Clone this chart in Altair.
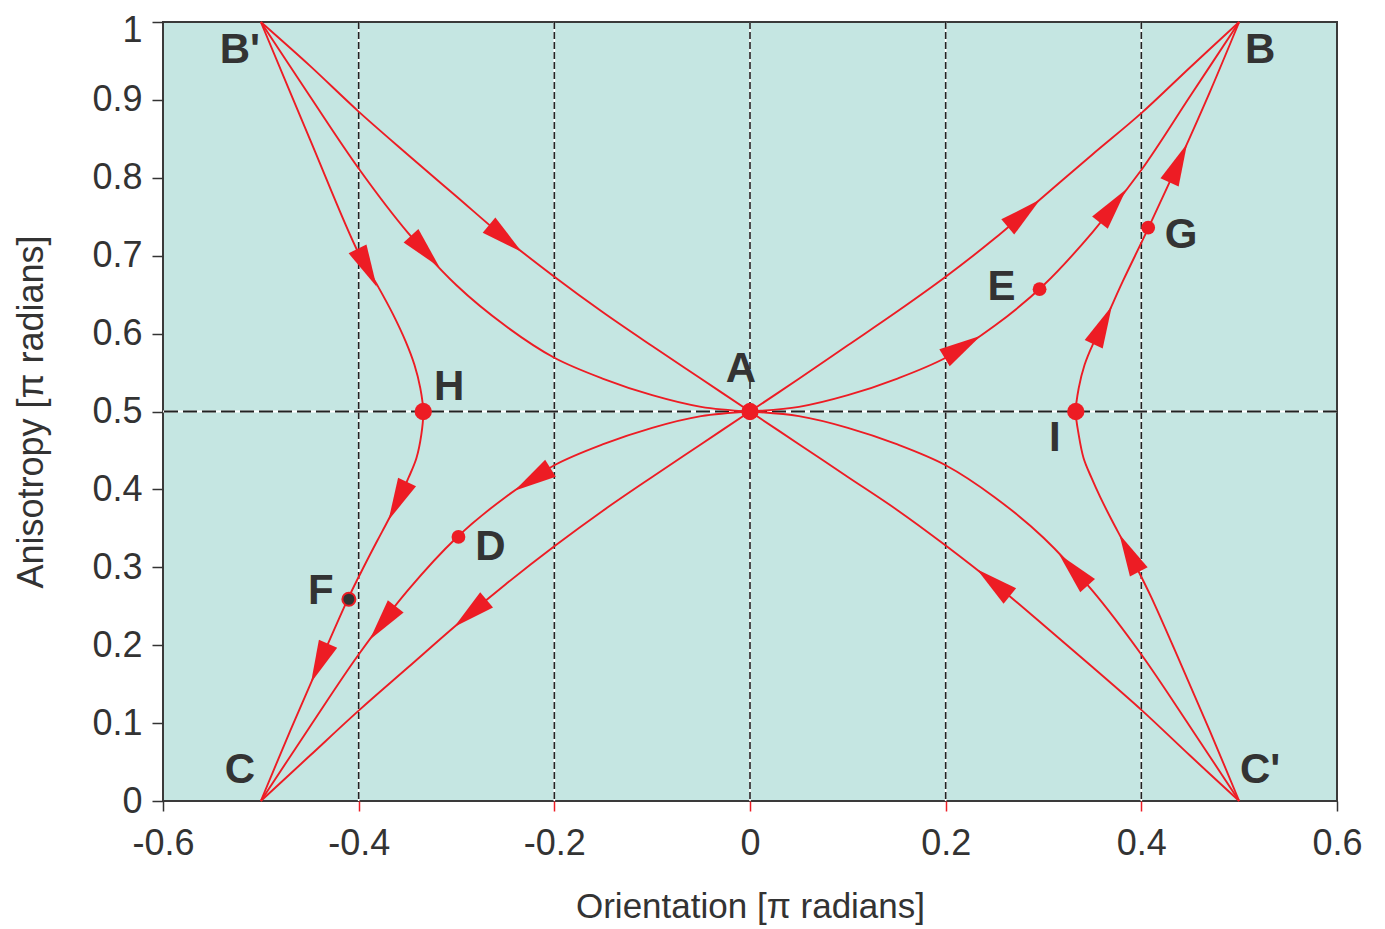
import math
import altair as alt
import pandas as pd

# ---------------- data ----------------
# trajectories (Orientation [pi rad], Anisotropy [pi rad]) listed in flow order
c1_x = [-0.5, -0.45, -0.4, -0.35, -0.3, -0.25, -0.2, -0.15, -0.1, -0.05, 0.0]
c1_y = [1.0, 0.944, 0.885, 0.83, 0.776, 0.722, 0.673, 0.627, 0.584, 0.542, 0.5]

c2_x = [-0.5, -0.45, -0.4, -0.35, -0.3, -0.25, -0.2, -0.15, -0.1, -0.05, 0.0]
c2_y = [1.0, 0.905, 0.812, 0.73, 0.662, 0.61, 0.569, 0.542, 0.521, 0.506, 0.5]

c3_x = [-0.5, -0.45, -0.4, -0.38, -0.365, -0.352, -0.343, -0.337, -0.334, -0.336,
        -0.341, -0.349, -0.358, -0.37, -0.381, -0.395, -0.41, -0.44, -0.47, -0.5]
c3_y = [1.0, 0.85, 0.703, 0.66, 0.625, 0.59, 0.56, 0.53, 0.5, 0.47,
        0.44, 0.415, 0.39, 0.36, 0.334, 0.3, 0.262, 0.177, 0.09, 0.0]

c4_x = [0.0, -0.05, -0.1, -0.15, -0.2, -0.25, -0.3, -0.35, -0.4, -0.45, -0.5]
c4_y = [0.5, 0.494, 0.479, 0.458, 0.431, 0.39, 0.338, 0.27, 0.188, 0.095, 0.0]

c5_x = [0.0, -0.05, -0.1, -0.15, -0.2, -0.25, -0.3, -0.35, -0.4, -0.45, -0.5]
c5_y = [0.5, 0.458, 0.416, 0.373, 0.327, 0.278, 0.226, 0.171, 0.116, 0.058, 0.0]

c6_x = [0.0, 0.05, 0.1, 0.15, 0.2, 0.25, 0.3, 0.35, 0.4, 0.45, 0.5]
c6_y = [0.5, 0.542, 0.585, 0.628, 0.673, 0.722, 0.776, 0.83, 0.883, 0.942, 1.0]

c7_x = [0.0, 0.05, 0.1, 0.15, 0.2, 0.25, 0.3, 0.35, 0.4, 0.45, 0.5]
c7_y = [0.5, 0.506, 0.521, 0.542, 0.569, 0.61, 0.662, 0.73, 0.81, 0.905, 1.0]

c8_x = [0.5, 0.47, 0.44, 0.41, 0.395, 0.381, 0.37, 0.358, 0.349, 0.341, 0.336,
        0.333, 0.336, 0.342, 0.35, 0.361, 0.381, 0.407, 0.44, 0.47, 0.5]
c8_y = [0.0, 0.09, 0.177, 0.262, 0.3, 0.334, 0.36, 0.39, 0.415, 0.44, 0.47,
        0.5, 0.53, 0.56, 0.585, 0.612, 0.667, 0.735, 0.825, 0.91, 1.0]

c9_x = [0.5, 0.45, 0.4, 0.35, 0.3, 0.25, 0.2, 0.15, 0.1, 0.05, 0.0]
c9_y = [0.0, 0.095, 0.188, 0.27, 0.338, 0.39, 0.431, 0.458, 0.479, 0.494, 0.5]

c10_x = [0.5, 0.45, 0.4, 0.35, 0.3, 0.25, 0.2, 0.15, 0.1, 0.05, 0.0]
c10_y = [0.0, 0.058, 0.117, 0.172, 0.226, 0.279, 0.328, 0.374, 0.416, 0.458, 0.5]

curves = {
    "c1": (c1_x, c1_y), "c2": (c2_x, c2_y), "c3": (c3_x, c3_y),
    "c4": (c4_x, c4_y), "c5": (c5_x, c5_y), "c6": (c6_x, c6_y),
    "c7": (c7_x, c7_y), "c8": (c8_x, c8_y), "c9": (c9_x, c9_y),
    "c10": (c10_x, c10_y),
}

# arrow heads: curve they sit on, and approximate position
arrow_curve = ["c1", "c2", "c3", "c3", "c3", "c4", "c4", "c5",
               "c6", "c7", "c7", "c8", "c8", "c8", "c9", "c10"]
arrow_x = [-0.25, -0.334, -0.392, -0.36, -0.44, -0.223, -0.375, -0.286,
           0.281, 0.218, 0.371, 0.359, 0.436, 0.387, 0.33, 0.248]
arrow_y = [0.722, 0.703, 0.684, 0.385, 0.177, 0.414, 0.228, 0.241,
           0.753, 0.582, 0.764, 0.612, 0.82, 0.318, 0.296, 0.279]

# marked states
node_name = ["A", "H", "I", "D", "E", "G", "F"]
node_x = [0.0, -0.334, 0.333, -0.298, 0.296, 0.407, -0.41]
node_y = [0.5, 0.5, 0.5, 0.339, 0.657, 0.736, 0.259]
node_kind = ["big", "big", "big", "small", "small", "small", "dark"]

# labels: text, anchor point (data), offset (px)
label_text = ["A", "B", "B'", "C", "C'", "D", "E", "F", "G", "H", "I"]
label_ax = [0.0, 0.5, -0.5, -0.5, 0.5, -0.298, 0.296, -0.41, 0.407, -0.334, 0.333]
label_ay = [0.5, 1.0, 1.0, 0.0, 0.0, 0.339, 0.657, 0.259, 0.736, 0.5, 0.5]
label_dx = [-9, 21, -21, -21, 21, 32, -38, -28, 33, 26, -21]
label_dy = [-43, 28, 28, -31, -31, 10, -2, -8, 7, -25, 26]

vgrid_x = [-0.4, -0.2, 0.0, 0.2, 0.4]
hgrid_y = [0.5]
x_ticks = [-0.6, -0.4, -0.2, 0.0, 0.2, 0.4, 0.6]
y_ticks = [0.0, 0.1, 0.2, 0.3, 0.4, 0.5, 0.6, 0.7, 0.8, 0.9, 1.0]

# ---------------- layout / style ----------------
PAD_TOP = 14
W, H = 1174, 793 - PAD_TOP
XMIN, XMAX, YMIN, YMAX = -0.6, 0.6, 0.0, 1.0
RED = "#ed1c24"
DARK = "#333333"
FONT = "Liberation Sans"


def to_px(x, y):
    return ((x - XMIN) / (XMAX - XMIN) * W, (YMAX - y) / (YMAX - YMIN) * H)


def from_px(px, py):
    return (XMIN + px / W * (XMAX - XMIN), YMAX - py / H * (YMAX - YMIN))


# curve table
rows = []
for name, (xs, ys) in curves.items():
    for i, (x, y) in enumerate(zip(xs, ys)):
        rows.append({"curve": name, "i": i, "x": x, "y": y})
curve_df = pd.DataFrame(rows)

# arrow table: project onto curve, orient along flow direction
arows = []
for cname, ax, ay in zip(arrow_curve, arrow_x, arrow_y):
    xs, ys = curves[cname]
    pts = [to_px(x, y) for x, y in zip(xs, ys)]
    qx, qy = to_px(ax, ay)
    best = None
    for k in range(len(pts) - 1):
        (x0, y0), (x1, y1) = pts[k], pts[k + 1]
        dx, dy = x1 - x0, y1 - y0
        L2 = dx * dx + dy * dy
        t = max(0.0, min(1.0, ((qx - x0) * dx + (qy - y0) * dy) / L2)) if L2 > 0 else 0.0
        px_, py_ = x0 + t * dx, y0 + t * dy
        d = (px_ - qx) ** 2 + (py_ - qy) ** 2
        if best is None or d < best[0]:
            best = (d, k, t, px_, py_)
    _, k, t, px_, py_ = best

    def tang(j):
        a = pts[max(j - 1, 0)]
        b = pts[min(j + 1, len(pts) - 1)]
        return (b[0] - a[0], b[1] - a[1])

    t0, t1 = tang(k), tang(k + 1)
    n0 = math.hypot(*t0) or 1.0
    n1 = math.hypot(*t1) or 1.0
    tx = (1 - t) * t0[0] / n0 + t * t1[0] / n1
    ty = (1 - t) * t0[1] / n0 + t * t1[1] / n1
    ang = math.degrees(math.atan2(tx, -ty)) % 360
    dx_, dy_ = from_px(px_, py_)
    arows.append({"x": dx_, "y": dy_, "angle": ang})
arrow_df = pd.DataFrame(arows)

node_df = pd.DataFrame({"name": node_name, "x": node_x, "y": node_y, "kind": node_kind})

lrows = []
for t_, ax, ay, ddx, ddy in zip(label_text, label_ax, label_ay, label_dx, label_dy):
    px_, py_ = to_px(ax, ay)
    lx, ly = from_px(px_ + ddx, py_ + ddy)
    lrows.append({"label": t_, "x": lx, "y": ly})
label_df = pd.DataFrame(lrows)

vgrid_df = pd.DataFrame({"x": vgrid_x})
hgrid_df = pd.DataFrame({"y": hgrid_y})

# ---------------- scales & axes ----------------
xscale = alt.Scale(domain=[XMIN, XMAX], nice=False, zero=False)
yscale = alt.Scale(domain=[YMIN, YMAX], nice=False, zero=False)

xaxis = alt.Axis(
    values=x_ticks,
    title="Orientation [π radians]",
    labelExpr="'' + round(datum.value * 10) / 10",
    grid=False,
    domain=False,
    labelFlush=False,
    tickSize=10,
    tickWidth=1.5,
    tickColor={"condition": {"test": "abs(datum.value) > 0.55", "value": DARK}, "value": RED},
    labelFont=FONT, labelFontSize=36, labelColor=DARK, labelPadding=15,
    titleFont=FONT, titleFontSize=35, titleFontWeight="normal", titleColor=DARK,
    titlePadding=28,
)
yaxis = alt.Axis(
    values=y_ticks,
    title="Anisotropy [π radians]",
    labelExpr="'' + round(datum.value * 10) / 10",
    grid=False,
    domain=False,
    labelFlush=False,
    labelOffset={"condition": {"test": "datum.value > 0.95", "value": 8}, "value": 0},
    tickSize=11,
    tickWidth=1.5,
    tickColor=DARK,
    labelFont=FONT, labelFontSize=36, labelColor=DARK, labelPadding=10,
    titleFont=FONT, titleFontSize=36, titleFontWeight="normal", titleColor=DARK,
    titlePadding=41,
)

X = alt.X("x:Q", scale=xscale, axis=xaxis)
Y = alt.Y("y:Q", scale=yscale, axis=yaxis)

# ---------------- layers ----------------
v_white = alt.Chart(vgrid_df).mark_rule(color="white", strokeWidth=1.6).encode(x=X)
v_black = alt.Chart(vgrid_df).mark_rule(color="#222222", strokeWidth=1.6,
                                        strokeDash=[7, 3]).encode(x=X)
h_white = alt.Chart(hgrid_df).mark_rule(color="white", strokeWidth=1.8).encode(y=Y)
h_black = alt.Chart(hgrid_df).mark_rule(color="#222222", strokeWidth=1.8,
                                        strokeDash=[14, 5]).encode(y=Y)

lines = alt.Chart(curve_df).mark_line(
    color=RED, strokeWidth=1.9, interpolate="catmull-rom"
).encode(x=X, y=Y, detail="curve:N", order="i:Q")

arrows = alt.Chart(arrow_df).mark_point(
    shape="M0,-1L0.47,1L-0.47,1Z", filled=True, color=RED, opacity=1,
    size=1800, strokeWidth=0
).encode(x=X, y=Y, angle=alt.Angle("angle:Q", scale=None))

big = alt.Chart(node_df).transform_filter("datum.kind == 'big'").mark_circle(
    color=RED, opacity=1, size=300).encode(x=X, y=Y)
small = alt.Chart(node_df).transform_filter("datum.kind == 'small'").mark_circle(
    color=RED, opacity=1, size=190).encode(x=X, y=Y)
dark = alt.Chart(node_df).transform_filter("datum.kind == 'dark'").mark_point(
    shape="circle", filled=True, fill=DARK, stroke=RED, strokeWidth=2,
    opacity=1, size=170).encode(x=X, y=Y)

labels = alt.Chart(label_df).mark_text(
    font=FONT, fontSize=42, fontWeight="bold", color=DARK,
    align="center", baseline="middle"
).encode(x=X, y=Y, text="label:N")

chart = alt.layer(
    v_white, v_black, h_white, h_black, lines, arrows, big, small, dark, labels
).properties(
    width=W, height=H,
    autosize=alt.AutoSizeParams(type="none"),
    padding={"left": 155, "top": PAD_TOP, "right": 40, "bottom": 125},
).configure_view(
    fill="#c5e6e2", stroke="#3a3a3a", strokeWidth=2
)

chart.save("out.html", embed_options={"renderer": "svg", "actions": False})
